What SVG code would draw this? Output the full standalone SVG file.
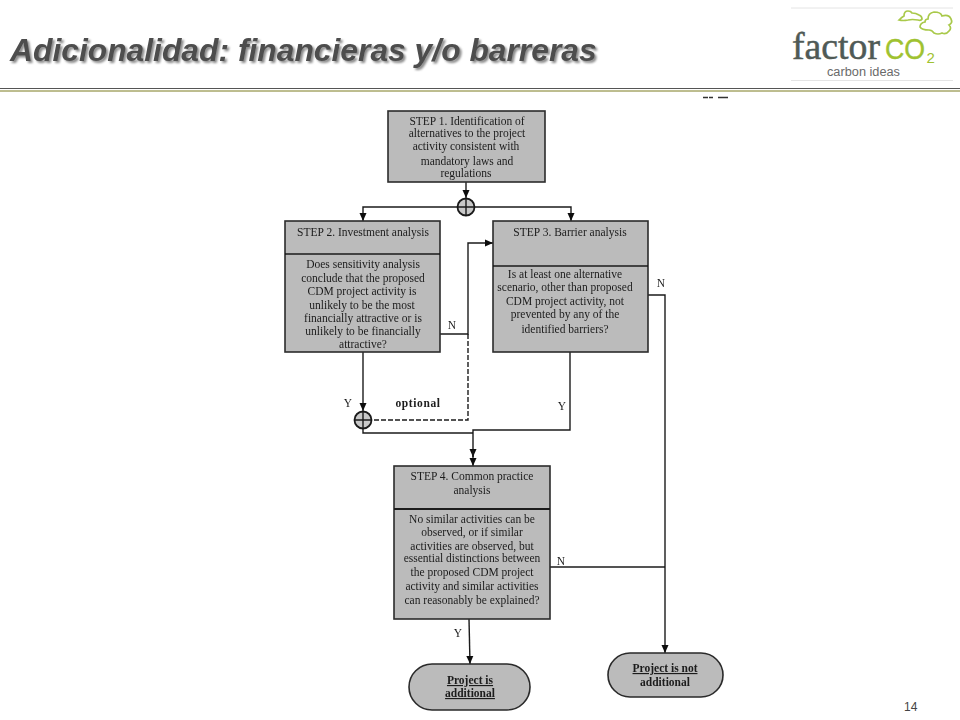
<svg xmlns="http://www.w3.org/2000/svg" width="960" height="720" viewBox="0 0 960 720">
<defs>
<filter id="shadow" x="-5%" y="-30%" width="110%" height="170%"><feDropShadow dx="2" dy="2" stdDeviation="1.2" flood-color="#8a8a8a"/></filter>
<filter id="soft" x="-5%" y="-5%" width="110%" height="110%"><feGaussianBlur stdDeviation="0.4"/></filter>
<marker id="arrow" markerUnits="userSpaceOnUse" markerWidth="9" markerHeight="9" refX="8" refY="4" orient="auto"><path d="M0 0.500L8 4L0 7.500Z" fill="#111111"/></marker>
</defs>
<style>
.box{fill:#bbbbbb;stroke:#2a2a2a;stroke-width:1.6}
.div{stroke:#1a1a1a;stroke-width:1.4;fill:none}
.t{font-family:"Liberation Serif",serif;font-size:11.500px;fill:#1c1c1c;text-anchor:middle}
.b{font-weight:bold}
.u{text-decoration:underline}
.c{fill:none;stroke:#1a1a1a;stroke-width:1.4}
.a{marker-end:url(#arrow)}
.d{stroke-dasharray:5 2}
.j{fill:#c8c8c8;stroke:#1a1a1a;stroke-width:1.8}
</style>
<rect width="960" height="720" fill="#ffffff"/>
<g id="header">
<text x="10" y="61" font-family="'Liberation Sans',sans-serif" font-size="31.800px" font-weight="bold" font-style="italic" fill="#4d4d4d" filter="url(#shadow)">Adicionalidad: financieras y/o barreras</text>
<line x1="0" y1="88.500" x2="960" y2="88.500" stroke="#555555" stroke-width="1"/>
<line x1="0" y1="91" x2="960" y2="91" stroke="#7d7d20" stroke-width="1"/>
<path d="M703 97.500h5M709 97.500h4M718 97.500h10" stroke="#333333" stroke-width="1.600" fill="none"/>
</g>
<g id="logo">
<line x1="791" y1="8" x2="953" y2="8" stroke="#e4e4e4"/>
<line x1="791" y1="80.500" x2="953" y2="80.500" stroke="#e4e4e4"/>
<text x="792" y="59" font-family="'Liberation Serif',serif" font-size="38px" fill="#4f5a56" stroke="#4f5a56" stroke-width="0.500" textLength="88" lengthAdjust="spacingAndGlyphs">factor</text>
<text x="885" y="59" font-family="'Liberation Sans',sans-serif" font-size="29px" fill="#9fc230" stroke="#9fc230" stroke-width="0.400" textLength="40" lengthAdjust="spacingAndGlyphs">CO</text>
<text x="926.500" y="63" font-family="'Liberation Sans',sans-serif" font-size="15px" fill="#9fc230">2</text>
<text x="827" y="76" font-family="'Liberation Sans',sans-serif" font-size="12.500px" fill="#6a6a6a" textLength="73" lengthAdjust="spacingAndGlyphs">carbon ideas</text>
<path d="M899 20q3-3 5-4q0-5 4-5q3 0 4 2q4 0 7 2q3 1 3 4q-1 2-4 1q-6-1-10 0q-5 1-9 0Z" fill="none" stroke="#a9c94a" stroke-width="1.700"/>
<path d="M920 27q0-4 5-5q0-3 3-3q0-6 6-7q7 0 8 4q7-2 9 3q2 4-2 6q3 3 0 6q-3 4-7 2q-4 2-8 0q-2-3-5-3q-7 0-9-3Z" fill="none" stroke="#a9c94a" stroke-width="1.700"/>
</g>
<g id="connectors" filter="url(#soft)">
<path class="c a" d="M466 182V198"/>
<path class="c a" d="M457 207H363V221"/>
<path class="c a" d="M475 207H571V221"/>
<path class="c a" d="M440 334H468V243H493"/>
<path class="c d" d="M468 334V420H372"/>
<path class="c a" d="M363 352V411"/>
<path class="c" d="M363 429V433H473"/>
<path class="c a" d="M570 352V430H473V457"/>
<path class="c a" d="M473 450V466"/>
<path class="c a" d="M648 295H665V653"/>
<path class="c" d="M550 567H665"/>
<path class="c a" d="M469 619L470 664"/>
</g>
<g id="junction1" filter="url(#soft)"><circle class="j" cx="466" cy="207" r="8.500"/><path class="c" d="M466 198.500V215.500M457.500 207H474.500"/></g>
<g id="junction2" filter="url(#soft)"><circle class="j" cx="363" cy="420" r="8.500"/><path class="c" d="M363 411.500V428.500M354.500 420H371.500"/></g>
<g id="step1" filter="url(#soft)">
<rect class="box" x="388" y="111" width="157" height="71"/>
<text class="t" x="467" y="125">STEP 1. Identification of</text>
<text class="t" x="467" y="137">alternatives to the project</text>
<text class="t" x="466" y="150">activity consistent with</text>
<text class="t" x="467" y="165">mandatory laws and</text>
<text class="t" x="466" y="177">regulations</text>
</g>
<g id="step2" filter="url(#soft)">
<rect class="box" x="285" y="221" width="155" height="131"/>
<line class="div" x1="285" y1="254" x2="440" y2="254"/>
<text class="t" x="363" y="236">STEP 2. Investment analysis</text>
<text class="t" x="363" y="268">Does sensitivity analysis</text>
<text class="t" x="363" y="282">conclude that the proposed</text>
<text class="t" x="362" y="295">CDM project activity is</text>
<text class="t" x="362" y="309">unlikely to be the most</text>
<text class="t" x="363" y="322">financially attractive or is</text>
<text class="t" x="363" y="335">unlikely to be financially</text>
<text class="t" x="363" y="348">attractive?</text>
</g>
<g id="step3" filter="url(#soft)">
<rect class="box" x="493" y="221" width="155" height="131"/>
<line class="div" x1="493" y1="266" x2="648" y2="266"/>
<text class="t" x="570" y="236">STEP 3. Barrier analysis</text>
<text class="t" x="565" y="278">Is at least one alternative</text>
<text class="t" x="565" y="291">scenario, other than  proposed</text>
<text class="t" x="565" y="305">CDM project activity, not</text>
<text class="t" x="565" y="318">prevented by any of the</text>
<text class="t" x="565" y="333">identified barriers?</text>
</g>
<g id="step4" filter="url(#soft)">
<rect class="box" x="394" y="466" width="156" height="153"/>
<line class="div" x1="394" y1="509" x2="550" y2="509" style="stroke-width:2"/>
<text class="t" x="472" y="480">STEP 4. Common practice</text>
<text class="t" x="472" y="494">analysis</text>
<text class="t" x="472" y="523">No similar activities can be</text>
<text class="t" x="472" y="536">observed, or if similar</text>
<text class="t" x="472" y="550">activities are observed, but</text>
<text class="t" x="472" y="562">essential distinctions between</text>
<text class="t" x="472" y="576">the proposed CDM project</text>
<text class="t" x="472" y="590">activity and similar activities</text>
<text class="t" x="472" y="604">can reasonably be explained?</text>
</g>
<g id="additional" filter="url(#soft)">
<rect class="box" x="409" y="664" width="121" height="46" rx="23" ry="23"/>
<text class="t b u" x="470" y="684">Project is</text>
<text class="t b u" x="470" y="697">additional</text>
</g>
<g id="not-additional" filter="url(#soft)">
<rect class="box" x="608" y="653" width="115" height="44" rx="22" ry="22"/>
<text class="t b u" x="665" y="672">Project is not</text>
<text class="t b" x="665" y="686">additional</text>
</g>
<g id="labels" filter="url(#soft)">
<text class="t" x="452" y="329">N</text>
<text class="t" x="661" y="287">N</text>
<text class="t" x="561" y="565">N</text>
<text class="t" x="348" y="407">Y</text>
<text class="t" x="562" y="410">Y</text>
<text class="t" x="458" y="637">Y</text>
<text class="t b" x="418" y="407" letter-spacing="0.600">optional</text>
</g>
<text x="904" y="711" font-family="'Liberation Sans',sans-serif" font-size="12px" fill="#444444">14</text>
</svg>
